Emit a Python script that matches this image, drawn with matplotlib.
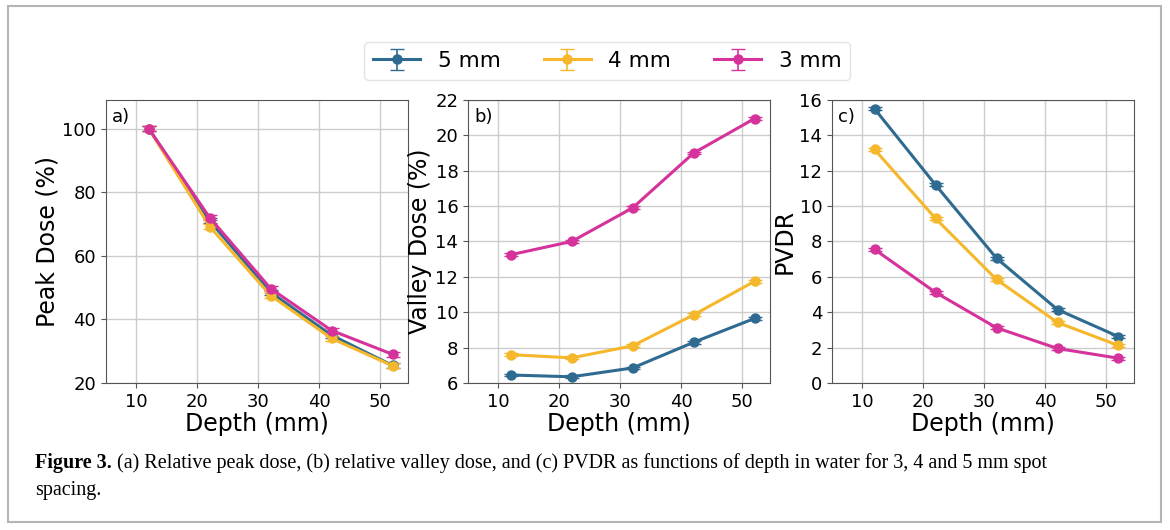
import matplotlib.pyplot as plt
from matplotlib.patches import Rectangle

depth = [12, 22, 32, 42, 52]
spacings = ['5 mm', '4 mm', '3 mm']
colors = ['#2f6a91', '#f5b72c', '#d5339b']

peak = {
    '5 mm': [100, 71.0, 48.5, 35.0, 25.5],
    '4 mm': [100, 69.2, 47.5, 34.0, 25.4],
    '3 mm': [100, 72.0, 49.7, 36.5, 29.0],
}
valley = {
    '5 mm': [6.45, 6.35, 6.85, 8.3, 9.65],
    '4 mm': [7.6, 7.42, 8.1, 9.85, 11.75],
    '3 mm': [13.25, 14.0, 15.9, 19.0, 20.95],
}
pvdr = {
    '5 mm': [15.5, 11.2, 7.05, 4.15, 2.62],
    '4 mm': [13.2, 9.3, 5.85, 3.42, 2.12],
    '3 mm': [7.55, 5.12, 3.12, 1.95, 1.4],
}
peak_err = [0.8, 0.8, 0.8, 0.8, 0.8]
small_err = [0.08, 0.08, 0.08, 0.08, 0.08]

panels = [
    (peak, 'Peak Dose (%)', 'a)', (20, 109), [20, 40, 60, 80, 100], peak_err),
    (valley, 'Valley Dose (%)', 'b)', (6, 22), list(range(6, 23, 2)), small_err),
    (pvdr, 'PVDR', 'c)', (0, 16), list(range(0, 17, 2)), small_err),
]
lefts = [0.0906, 0.400, 0.711]

fig = plt.figure(figsize=(11.7, 5.3), dpi=100)
fig.patches.append(Rectangle((0.007, 0.015), 0.985, 0.973, transform=fig.transFigure,
                             fill=False, edgecolor='#b5b5b5', linewidth=1.5))

for (data, ylabel, tag, ylim, yticks, err), left in zip(panels, lefts):
    ax = fig.add_axes([left, 0.2774, 0.258, 0.534])
    for name, c in zip(spacings, colors):
        ax.errorbar(depth, data[name], yerr=err, color=c, marker='o', markersize=6.5,
                    linewidth=2.2, capsize=5, elinewidth=1.2, label=name)
    ax.set_xlim(5, 54.5)
    ax.set_ylim(*ylim)
    ax.set_xticks([10, 20, 30, 40, 50])
    ax.set_yticks(yticks)
    ax.grid(True, color='#cccccc', linewidth=1)
    ax.set_axisbelow(True)
    for s in ax.spines.values():
        s.set_color('#555555')
    ax.tick_params(labelsize=13, color='#555555')
    ax.set_xlabel('Depth (mm)', fontsize=17, labelpad=1)
    ax.set_ylabel(ylabel, fontsize=17, labelpad=2)
    ax.text(0.02, 0.97, tag, transform=ax.transAxes, fontsize=13, va='top', ha='left')
    if tag == 'a)':
        handles, labels = ax.get_legend_handles_labels()

fig.legend(handles, labels, loc='center', bbox_to_anchor=(0.519, 0.885), ncol=3,
           fontsize=15.5, frameon=True, handlelength=2.2, columnspacing=2.0,
           borderpad=0.4, edgecolor='#dddddd', fancybox=True)

# caption, bold lead-in followed by regular text
cap_size = 14.5
lead = fig.text(0.03, 0.117, 'Figure 3.', fontsize=cap_size, fontweight='bold',
                family='Liberation Serif')
renderer = fig.canvas.get_renderer()
bb = lead.get_window_extent(renderer=renderer)
x_next = (bb.x1 + 5) / fig.bbox.width
fig.text(x_next, 0.117, '(a) Relative peak dose, (b) relative valley dose, and (c) PVDR as functions of depth '
         'in water for 3, 4 and 5 mm spot', fontsize=cap_size, family='Liberation Serif')
fig.text(0.03, 0.066, 'spacing.', fontsize=cap_size, family='Liberation Serif')

fig.savefig('out.png', dpi=100)
